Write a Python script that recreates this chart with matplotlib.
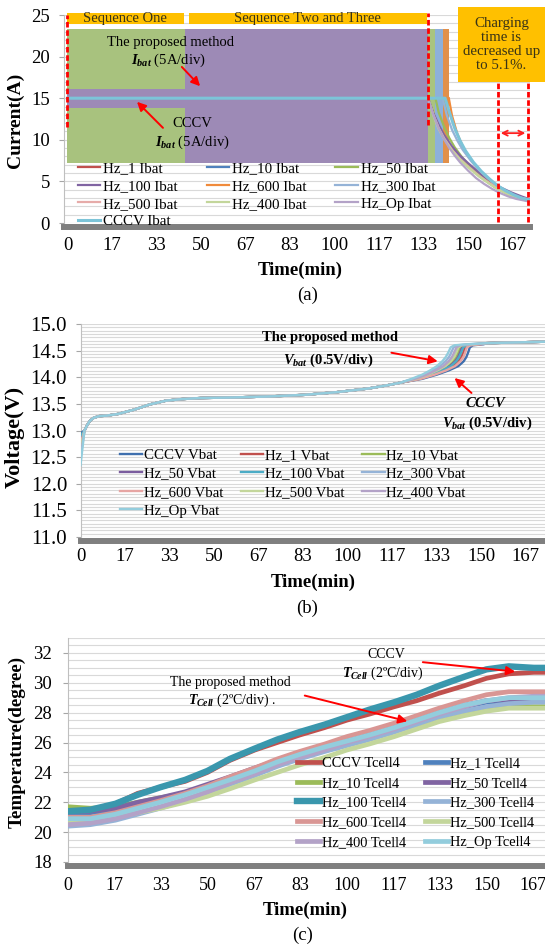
import numpy as np
import matplotlib
matplotlib.use("Agg")
import matplotlib.pyplot as plt
from matplotlib.patches import Rectangle
from matplotlib.ticker import MultipleLocator, FormatStrFormatter

plt.rcParams['font.family'] = ['Liberation Serif', 'DejaVu Serif']
plt.rcParams['mathtext.fontset'] = 'custom'
plt.rcParams['mathtext.rm'] = 'Liberation Serif'
plt.rcParams['mathtext.it'] = 'Liberation Serif:italic:bold'
plt.rcParams['mathtext.bf'] = 'Liberation Serif:bold'

# shared time axis labels (min)
tick_minutes = [0, 16.67, 33.33, 50, 66.67, 83.33, 100, 116.67, 133.33, 150, 166.67]
tick_labels = ['0', '17', '33', '50', '67', '83', '100', '117', '133', '150', '167']

# ---------------- (a) current ----------------
ibat_names = ['Hz_1', 'Hz_10', 'Hz_50', 'Hz_100', 'Hz_600', 'Hz_300', 'Hz_500', 'Hz_400', 'Hz_Op', 'CCCV']
ibat_colors = {'Hz_1': '#C0504D', 'Hz_10': '#4F81BD', 'Hz_50': '#9BBB59', 'Hz_100': '#8064A2',
               'Hz_600': '#F08A3A', 'Hz_300': '#95B3D7', 'Hz_500': '#E6ABA9', 'Hz_400': '#C3D69B',
               'Hz_Op': '#B3A2C7', 'CCCV': '#7CC4D8'}
pulse_low = 7.2
pulse_high = 23.3
block_end = {'Hz_600': 142.8, 'Hz_300': 140.5, 'Hz_50': 137.8, 'Hz_1': 135.0, 'Hz_10': 135.0,
             'Hz_100': 135.0, 'Hz_500': 135.0, 'Hz_400': 135.0}
block_fill = {'Hz_600': '#E1904A', 'Hz_300': '#8DB0DA', 'Hz_50': '#A9C47F', 'Hz_1': '#C0504D',
              'Hz_10': '#4F81BD', 'Hz_100': '#8064A2', 'Hz_500': '#E6ABA9', 'Hz_400': '#A8C27E'}
op_block_t = [0, 44, 44, 135]
op_block_lo = [13.8, 13.8, 7.2, 7.2]
op_block_hi = [16.1, 16.1, 23.3, 23.3]
op_block_fill = '#9D8AB6'

decay_t = {
    'Hz_1': [135.0, 137, 139, 141, 144, 147, 150, 154, 158, 162, 166, 170, 172.6],
    'Hz_10': [135.0, 137, 139, 141, 144, 147, 150, 154, 158, 162, 166, 170, 172.6],
    'Hz_50': [137.8, 139, 141, 143, 145, 148, 151, 154, 157, 160, 163, 166, 169, 172.6],
    'Hz_100': [135.0, 137, 139, 141, 144, 147, 150, 154, 158, 162, 166, 170, 172.6],
    'Hz_600': [142.8, 144, 146, 148, 150, 153, 156, 159, 162, 165, 168, 172.6],
    'Hz_300': [140.5, 142, 144, 146, 148, 151, 154, 157, 160, 163, 166, 169, 172.6],
    'Hz_500': [135.0, 137, 139, 141, 144, 147, 150, 154, 158, 162, 166, 170, 172.6],
    'Hz_400': [135.0, 137, 139, 141, 144, 147, 150, 154, 158, 162, 166, 170, 172.6],
    'Hz_Op': [135.0, 137, 139, 141, 143, 145, 147, 150, 153, 156, 159, 162, 165, 168, 172.6],
    'CCCV': [0, 141.4, 143, 145, 147, 149, 152, 155, 158, 161, 164, 167, 170, 172.6],
}
decay_i = {
    'Hz_1': [15.0, 13.1, 11.6, 10.4, 9.0, 7.9, 7.0, 5.9, 5.0, 4.2, 3.6, 3.1, 2.8],
    'Hz_10': [15.0, 13.0, 11.5, 10.3, 8.9, 7.8, 6.9, 5.8, 4.9, 4.1, 3.5, 3.0, 2.7],
    'Hz_50': [15.0, 13.3, 11.6, 10.2, 9.1, 7.8, 6.7, 5.8, 5.0, 4.3, 3.8, 3.3, 3.0, 2.7],
    'Hz_100': [15.0, 13.2, 11.8, 10.6, 9.2, 8.1, 7.2, 6.1, 5.1, 4.3, 3.7, 3.2, 2.9],
    'Hz_600': [15.0, 12.9, 10.7, 9.2, 8.1, 6.8, 5.8, 4.9, 4.2, 3.6, 3.2, 2.8],
    'Hz_300': [15.0, 13.0, 11.2, 9.9, 8.8, 7.5, 6.4, 5.5, 4.7, 4.0, 3.5, 3.1, 2.8],
    'Hz_500': [15.0, 13.0, 11.4, 10.2, 8.8, 7.7, 6.8, 5.7, 4.8, 4.0, 3.4, 3.0, 2.7],
    'Hz_400': [15.0, 12.9, 11.3, 10.1, 8.7, 7.6, 6.7, 5.6, 4.7, 3.9, 3.3, 2.9, 2.6],
    'Hz_Op': [15.0, 13.0, 11.4, 10.1, 9.0, 8.1, 7.3, 6.3, 5.4, 4.7, 4.1, 3.6, 3.2, 2.9, 2.6],
    'CCCV': [15.0, 15.0, 13.3, 11.4, 9.9, 8.7, 7.3, 6.2, 5.3, 4.5, 3.9, 3.4, 3.0, 2.8],
}
ibat_legend_order = ['Hz_1', 'Hz_100', 'Hz_500', 'CCCV', 'Hz_10', 'Hz_600', 'Hz_400', 'Hz_50', 'Hz_300', 'Hz_Op']

# dashed markers in (a): minute, top, bottom
mark_t = [-0.2, 135.0, 161.2, 172.5]
mark_top = [25.0, 25.2, 16.8, 16.8]
mark_bot = [11.5, 11.8, 0.1, 0.1]

# ---------------- (b) voltage ----------------
vbat_names = ['CCCV', 'Hz_1', 'Hz_10', 'Hz_50', 'Hz_100', 'Hz_300', 'Hz_600', 'Hz_500', 'Hz_400', 'Hz_Op']
vbat_colors = {'CCCV': '#3F6FAE', 'Hz_1': '#C0504D', 'Hz_10': '#9BBB59', 'Hz_50': '#7A5C9E',
               'Hz_100': '#4BACC6', 'Hz_300': '#95B3D7', 'Hz_600': '#E6A5A3', 'Hz_500': '#C3D69B',
               'Hz_400': '#B3A2C7', 'Hz_Op': '#93CDDD'}
v_start = {'CCCV': 12.95, 'Hz_1': 12.85, 'Hz_10': 12.7, 'Hz_50': 12.8, 'Hz_100': 12.9,
           'Hz_300': 12.6, 'Hz_600': 12.75, 'Hz_500': 12.65, 'Hz_400': 12.5, 'Hz_Op': 12.35}
common_t = [1.5, 2.5, 3.5, 5, 7, 10, 14, 20, 26, 32, 38, 45, 57, 71, 84, 96, 108, 115, 120]
common_v = [13.0, 13.1, 13.18, 13.24, 13.27, 13.28, 13.31, 13.39, 13.49, 13.56, 13.59, 13.61,
            13.62, 13.64, 13.67, 13.72, 13.79, 13.85, 13.9]
knee_v = [13.97, 14.05, 14.13, 14.21, 14.3, 14.38, 14.47, 14.56, 14.6, 14.62, 14.64, 14.65, 14.66, 14.67]
knee_t = {
    'Hz_Op': [124.0, 128.0, 131.0, 133.5, 135.5, 136.8, 137.8, 138.6, 140.0, 145.0, 152, 160, 168, 176],
    'Hz_300': [124.6, 128.8, 132.1, 134.7, 136.7, 138.0, 138.9, 139.7, 141.1, 145.9, 152, 160, 168, 176],
    'Hz_400': [125.2, 129.7, 133.1, 135.9, 137.9, 139.1, 140.0, 140.8, 142.1, 146.8, 152, 160, 168, 176],
    'Hz_500': [125.6, 130.2, 133.8, 136.7, 138.7, 139.9, 140.8, 141.5, 142.8, 147.4, 152, 160, 168, 176],
    'Hz_10': [126.0, 130.8, 134.5, 137.5, 139.5, 140.7, 141.5, 142.2, 143.5, 148.0, 152, 160, 168, 176],
    'Hz_50': [126.4, 131.3, 135.2, 138.3, 140.3, 141.4, 142.2, 142.9, 144.2, 148.6, 152, 160, 168, 176],
    'Hz_100': [126.6, 131.6, 135.6, 138.7, 140.7, 141.8, 142.6, 143.3, 144.6, 148.9, 152, 160, 168, 176],
    'Hz_1': [127.0, 132.1, 136.3, 139.5, 141.5, 142.6, 143.4, 144.0, 145.3, 149.5, 152, 160, 168, 176],
    'Hz_600': [127.4, 132.7, 137.0, 140.3, 142.3, 143.4, 144.1, 144.7, 146.0, 150.1, 152, 160, 168, 176],
    'CCCV': [128.0, 133.5, 138.0, 141.5, 143.5, 144.5, 145.2, 145.8, 147.0, 151.0, 152, 160, 168, 176],
}
vbat_legend_order = ['CCCV', 'Hz_50', 'Hz_600', 'Hz_Op', 'Hz_1', 'Hz_100', 'Hz_500', 'Hz_10', 'Hz_300', 'Hz_400']

# ---------------- (c) temperature ----------------
tcell_names = ['CCCV', 'Hz_1', 'Hz_10', 'Hz_50', 'Hz_100', 'Hz_300', 'Hz_600', 'Hz_500', 'Hz_400', 'Hz_Op']
tcell_colors = {'CCCV': '#C0504D', 'Hz_1': '#4F81BD', 'Hz_10': '#9BBB59', 'Hz_50': '#8064A2',
                'Hz_100': '#3A97AD', 'Hz_300': '#95B3D7', 'Hz_600': '#D99694', 'Hz_500': '#C3D69B',
                'Hz_400': '#B3A2C7', 'Hz_Op': '#93CDDD'}
tc = [0, 8, 17, 25, 33, 42, 50, 58, 67, 75, 83, 92, 100, 108, 117, 125, 133, 142, 150, 158, 167, 172]
tcell = {
    'CCCV': [21.4, 21.5, 21.9, 22.6, 23.0, 23.4, 24.0, 24.8, 25.5, 26.0, 26.5, 27.0, 27.5, 27.9, 28.4,
             28.8, 29.3, 29.8, 30.3, 30.6, 30.7, 30.7],
    'Hz_1': [21.3, 21.3, 21.5, 21.9, 22.2, 22.6, 23.1, 23.6, 24.2, 24.7, 25.2, 25.7, 26.1, 26.5, 27.0,
             27.5, 28.0, 28.4, 28.7, 28.8, 28.8, 28.8],
    'Hz_10': [21.7, 21.6, 21.7, 22.0, 22.3, 22.6, 23.0, 23.4, 24.0, 24.5, 25.0, 25.5, 25.9, 26.3, 26.8,
              27.2, 27.6, 28.0, 28.3, 28.4, 28.4, 28.4],
    'Hz_50': [21.4, 21.4, 21.6, 22.0, 22.3, 22.7, 23.2, 23.7, 24.3, 24.8, 25.3, 25.8, 26.2, 26.6, 27.1,
              27.6, 28.1, 28.5, 28.8, 28.9, 28.9, 28.9],
    'Hz_100': [21.4, 21.5, 21.9, 22.5, 23.0, 23.5, 24.1, 24.9, 25.6, 26.2, 26.7, 27.2, 27.7, 28.2, 28.7,
               29.2, 29.8, 30.4, 30.9, 31.1, 31.0, 31.0],
    'Hz_300': [20.4, 20.5, 20.8, 21.2, 21.6, 22.1, 22.6, 23.2, 23.8, 24.4, 24.9, 25.4, 25.8, 26.2, 26.7,
               27.2, 27.7, 28.1, 28.4, 28.6, 28.7, 28.7],
    'Hz_600': [21.0, 21.0, 21.3, 21.7, 22.1, 22.6, 23.1, 23.7, 24.3, 24.9, 25.4, 25.9, 26.4, 26.8, 27.3,
               27.8, 28.3, 28.8, 29.2, 29.4, 29.4, 29.4],
    'Hz_500': [20.7, 20.8, 21.0, 21.3, 21.6, 22.0, 22.4, 22.9, 23.5, 24.0, 24.5, 25.0, 25.5, 25.9, 26.4,
               26.9, 27.4, 27.8, 28.1, 28.3, 28.3, 28.3],
    'Hz_400': [20.5, 20.6, 20.9, 21.3, 21.7, 22.2, 22.7, 23.3, 23.9, 24.5, 25.0, 25.5, 26.0, 26.4, 26.9,
               27.4, 27.9, 28.4, 28.8, 29.0, 29.1, 29.1],
    'Hz_Op': [20.9, 20.9, 21.2, 21.6, 22.0, 22.5, 23.0, 23.5, 24.1, 24.7, 25.2, 25.7, 26.1, 26.5, 27.0,
              27.5, 28.0, 28.5, 28.8, 29.0, 29.0, 29.0],
}
tcell_legend_order = ['CCCV', 'Hz_10', 'Hz_100', 'Hz_600', 'Hz_400', 'Hz_1', 'Hz_50', 'Hz_300', 'Hz_500', 'Hz_Op']

TXT = '#3A3416'
ORANGE = '#FFC000'


def style_axes(ax, xlim, ylim, major, minor, ysize, ypad, xpad, xsize=13.5):
    ax.set_xlim(*xlim)
    ax.set_ylim(*ylim)
    ax.set_xticks(tick_minutes, tick_labels)
    ax.yaxis.set_major_locator(MultipleLocator(major))
    ax.yaxis.set_minor_locator(MultipleLocator(minor))
    ax.grid(which='both', axis='y', color='#D9D9D9', lw=0.8)
    ax.set_axisbelow(True)
    ax.tick_params(axis='x', length=0, pad=xpad, labelsize=xsize)
    ax.tick_params(axis='y', which='major', length=3.6, width=0.8, color='#A6A6A6',
                   pad=ypad, labelsize=ysize)
    ax.tick_params(axis='y', which='minor', length=0)
    for s in ['top', 'right']:
        ax.spines[s].set_visible(False)
    ax.spines['left'].set_color('#BFBFBF')
    ax.spines['left'].set_linewidth(0.8)
    ax.spines['bottom'].set_color('#7F7F7F')
    ax.spines['bottom'].set_linewidth(4.3)
    ax.spines['bottom'].set_position(('outward', 3))


def axis_labels(ax, ylabel, ysize, xy_x, xy_y):
    ax.set_xlabel('Time(min)', fontsize=13.5, fontweight='bold')
    ax.xaxis.label.set_va('center')
    ax.xaxis.set_label_coords(*xy_x)
    ax.set_ylabel(ylabel, fontsize=ysize, fontweight='bold')
    ax.yaxis.label.set_va('center')
    ax.yaxis.set_label_coords(*xy_y)


W, H = 545, 952
fig = plt.figure(figsize=(W / 100, H / 100), dpi=100)

# ---------- panel (a) ----------
ax = fig.add_axes([64 / W, 1 - 223 / H, 466 / W, 208 / H])
style_axes(ax, (-1.3, 173.2), (0, 25), 5, 1, 13.5, 6.5, 7)

for name in sorted(block_end, key=lambda n: -block_end[n]):
    ax.fill_between([0, block_end[name]], pulse_low, pulse_high, color=block_fill[name], lw=0, zorder=2)
ax.fill_between(op_block_t, op_block_lo, op_block_hi, color=op_block_fill, lw=0, zorder=2)

lines_a = {}
for name in ibat_names:
    lw = 2.2 if name == 'CCCV' else 1.6
    lines_a[name], = ax.plot(decay_t[name], decay_i[name], color=ibat_colors[name], lw=lw, zorder=3,
                             label=name + ' Ibat')

ax.vlines(mark_t, mark_bot, mark_top, colors='#FF0000', lw=2.0, linestyles=(0, (2, 1)),
          zorder=5, clip_on=False)
ax.annotate('', xy=(mark_t[3], 10.8), xytext=(mark_t[2], 10.8),
            arrowprops=dict(arrowstyle='<->', color='#FF2020', lw=1.3, mutation_scale=9), zorder=6)

# sequence headers and note box
ax.add_patch(Rectangle((-0.2, 23.92), 43.8, 1.36, color=ORANGE, lw=0, clip_on=False, zorder=4))
ax.add_patch(Rectangle((45.5, 23.92), 89.1, 1.36, color=ORANGE, lw=0, clip_on=False, zorder=4))
ax.text(21.7, 24.6, 'Sequence One', ha='center', va='center', fontsize=10.5, color=TXT, zorder=5)
ax.text(90.0, 24.6, 'Sequence Two and Three', ha='center', va='center', fontsize=10.5, color=TXT, zorder=5)
ax.add_patch(Rectangle((146.3, 16.95), 32.5, 9.0, color=ORANGE, lw=0, clip_on=False, zorder=4))
ax.text(162.5, 21.45, 'Charging\ntime is\ndecreased up\nto 5.1%.', ha='center', va='center',
        fontsize=10.7, color=TXT, linespacing=1.12, zorder=5)

ax.text(38.4, 21.75, 'The proposed method', ha='center', va='center', fontsize=10.5, zorder=6)
ax.text(37.6, 19.6, r'$I_{bat}$ (5A/div)', ha='center', va='center', fontsize=10.5, zorder=6)
ax.annotate('', xy=(50.4, 16.2), xytext=(42.1, 19.0),
            arrowprops=dict(arrowstyle='-|>', color='#FF0000', lw=1.4, mutation_scale=13), zorder=6)
ax.text(46.6, 12.0, 'CCCV', ha='center', va='center', fontsize=10.5, zorder=6)
ax.text(46.6, 9.7, r'$I_{bat}$ (5A/div)', ha='center', va='center', fontsize=10.5, zorder=6)
ax.annotate('', xy=(25.3, 14.8), xytext=(36.5, 11.2),
            arrowprops=dict(arrowstyle='-|>', color='#FF0000', lw=1.4, mutation_scale=13), zorder=6)

ax.legend([lines_a[n] for n in ibat_legend_order], [n + ' Ibat' for n in ibat_legend_order],
          ncol=3, loc='upper left', bbox_to_anchor=(0.030, 0.296), frameon=False, fontsize=10.8,
          borderpad=0, borderaxespad=0, handlelength=1.5, handletextpad=0.2, labelspacing=0.29,
          columnspacing=1.9)
axis_labels(ax, 'Current(A)', 14, (0.506, -0.226), (-0.105, 0.495))
fig.text(308 / W, 1 - 295 / H, '(a)', ha='center', va='center', fontsize=13.5)

# ---------- panel (b) ----------
ax = fig.add_axes([80.5 / W, 1 - 537 / H, 466.5 / W, 213 / H])
style_axes(ax, (0, 174.7), (11, 15), 0.5, 0.0625, 15, 6, 5)
ax.yaxis.set_major_formatter(FormatStrFormatter('%.1f'))
lines_b = {}
for name in vbat_names:
    t = [0] + common_t + knee_t[name]
    v = [v_start[name]] + common_v + knee_v
    lines_b[name], = ax.plot(t, v, color=vbat_colors[name], lw=1.7, zorder=3)

ax.text(93.6, 14.74, 'The proposed method', ha='center', va='center', fontsize=10.5,
        fontweight='bold', zorder=6)
ax.text(92.9, 14.32, r'$V_{bat}$ (0.5V/div)', ha='center', va='center', fontsize=10.5,
        fontweight='bold', zorder=6)
ax.annotate('', xy=(134.8, 14.29), xytext=(115.4, 14.47),
            arrowprops=dict(arrowstyle='-|>', color='#FF0000', lw=1.4, mutation_scale=13), zorder=6)
ax.text(151.7, 13.52, r'$CCCV$', ha='center', va='center', fontsize=10.5, zorder=6)
ax.text(152.4, 13.14, r'$V_{bat}$ (0.5V/div)', ha='center', va='center', fontsize=10.5,
        fontweight='bold', zorder=6)
ax.annotate('', xy=(139.3, 14.02), xytext=(147.2, 13.67),
            arrowprops=dict(arrowstyle='-|>', color='#FF0000', lw=1.4, mutation_scale=13), zorder=6)

ax.legend([lines_b[n] for n in vbat_legend_order], [n + ' Vbat' for n in vbat_legend_order],
          ncol=3, loc='upper left', bbox_to_anchor=(0.085, 0.416), frameon=False, fontsize=10.7,
          borderpad=0, borderaxespad=0, handlelength=1.5, handletextpad=0.1, labelspacing=0.35,
          columnspacing=1.2)
axis_labels(ax, 'Voltage(V)', 16, (0.498, -0.211), (-0.140, 0.469))
fig.text(307 / W, 1 - 608 / H, '(b)', ha='center', va='center', fontsize=13.5)

# ---------- panel (c) ----------
ax = fig.add_axes([68 / W, 1 - 862 / H, 479 / W, 224 / H])
style_axes(ax, (0, 171.7), (18, 33), 2, 0.5, 13.5, 8, 8, xsize=13)
lines_c = {}
for name in tcell_names:
    lw = 4.6 if name == 'Hz_100' else 3.4
    lines_c[name], = ax.plot(tc, tcell[name], color=tcell_colors[name], lw=lw, zorder=3)

ax.text(114.0, 31.87, 'CCCV', ha='center', va='center', fontsize=10, zorder=6)
ax.text(112.9, 30.66, r'$T_{Cell}$ (2ºC/div)', ha='center', va='center', fontsize=10, zorder=6)
ax.annotate('', xy=(161.3, 30.73), xytext=(126.2, 31.4),
            arrowprops=dict(arrowstyle='-|>', color='#FF0000', lw=1.4, mutation_scale=13), zorder=6)
ax.text(58.1, 30.0, 'The proposed method', ha='center', va='center', fontsize=10, zorder=6)
ax.text(58.8, 28.85, r'$T_{Cell}$ (2ºC/div) .', ha='center', va='center', fontsize=10, zorder=6)
ax.annotate('', xy=(122.6, 27.38), xytext=(83.9, 29.19),
            arrowprops=dict(arrowstyle='-|>', color='#FF0000', lw=1.4, mutation_scale=13), zorder=6)

ax.legend([lines_c[n] for n in tcell_legend_order], [n + ' Tcell4' for n in tcell_legend_order],
          ncol=2, loc='upper left', bbox_to_anchor=(0.478, 0.468), frameon=False, fontsize=10.4,
          borderpad=0, borderaxespad=0, handlelength=1.6, handletextpad=0.15, labelspacing=0.45,
          columnspacing=1.25)
axis_labels(ax, 'Temperature(degree)', 13.75, (0.495, -0.214), (-0.106, 0.536))
fig.text(303 / W, 1 - 935 / H, '(c)', ha='center', va='center', fontsize=13.5)

fig.savefig('out.png', dpi=100)
